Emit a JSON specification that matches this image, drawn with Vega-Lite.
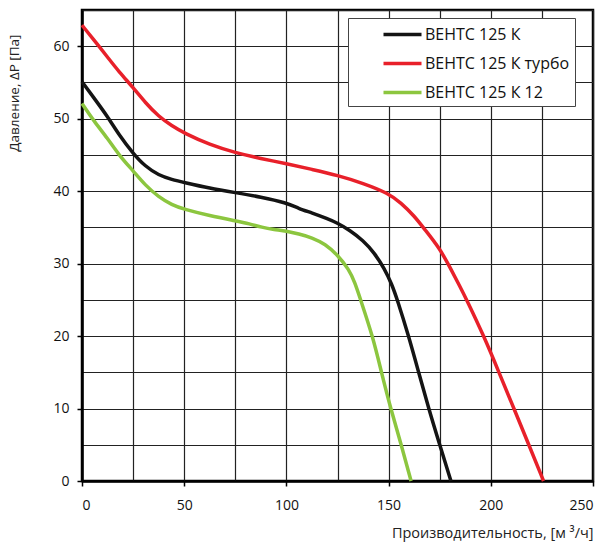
{
  "$schema": "https://vega.github.io/schema/vega-lite/v6.json",
  "width": 511,
  "height": 471,
  "autosize": "none",
  "padding": {"left": 82, "top": 10, "right": 7, "bottom": 64},
  "background": "white",
  "config": {
    "font": "Open Sans",
    "view": {"stroke": "#000", "strokeWidth": 2.5},
    "legend": {"strokeColor": "#444", "fillColor": "white"},
    "axis": {
      "domainColor": "#000",
      "domainWidth": 2.5,
      "gridColor": "#222",
      "gridWidth": 1.2,
      "gridOpacity": 1,
      "tickColor": "#000",
      "tickWidth": 1.5,
      "tickSize": 5,
      "labelFont": "Open Sans",
      "labelFontSize": 14,
      "labelColor": "#111",
      "titleFont": "Open Sans",
      "titleFontWeight": "normal",
      "titleColor": "#222"
    }
  },
  "data": {
    "values": [
      {"model": "ВЕНТС 125 К", "q": 0, "p": 55.1},
      {"model": "ВЕНТС 125 К", "q": 6, "p": 52.8},
      {"model": "ВЕНТС 125 К", "q": 12.5, "p": 50.3},
      {"model": "ВЕНТС 125 К", "q": 18, "p": 47.8},
      {"model": "ВЕНТС 125 К", "q": 25, "p": 45.2},
      {"model": "ВЕНТС 125 К", "q": 31, "p": 43.4},
      {"model": "ВЕНТС 125 К", "q": 37.5, "p": 42.2},
      {"model": "ВЕНТС 125 К", "q": 44, "p": 41.6},
      {"model": "ВЕНТС 125 К", "q": 50, "p": 41.2},
      {"model": "ВЕНТС 125 К", "q": 62.5, "p": 40.4},
      {"model": "ВЕНТС 125 К", "q": 75, "p": 39.8},
      {"model": "ВЕНТС 125 К", "q": 87.5, "p": 39.2},
      {"model": "ВЕНТС 125 К", "q": 100, "p": 38.4},
      {"model": "ВЕНТС 125 К", "q": 106, "p": 37.6},
      {"model": "ВЕНТС 125 К", "q": 112.5, "p": 37},
      {"model": "ВЕНТС 125 К", "q": 120, "p": 36.2},
      {"model": "ВЕНТС 125 К", "q": 125, "p": 35.6},
      {"model": "ВЕНТС 125 К", "q": 131, "p": 34.6},
      {"model": "ВЕНТС 125 К", "q": 137.5, "p": 33.2},
      {"model": "ВЕНТС 125 К", "q": 143, "p": 31.5},
      {"model": "ВЕНТС 125 К", "q": 148, "p": 29.3},
      {"model": "ВЕНТС 125 К", "q": 151.5, "p": 27.2},
      {"model": "ВЕНТС 125 К", "q": 154.3, "p": 25},
      {"model": "ВЕНТС 125 К", "q": 159.8, "p": 20},
      {"model": "ВЕНТС 125 К", "q": 164.7, "p": 15},
      {"model": "ВЕНТС 125 К", "q": 169.6, "p": 10},
      {"model": "ВЕНТС 125 К", "q": 175, "p": 5},
      {"model": "ВЕНТС 125 К", "q": 180.5, "p": 0},
      {"model": "ВЕНТС 125 К турбо", "q": 0, "p": 62.9},
      {"model": "ВЕНТС 125 К турбо", "q": 6, "p": 60.8},
      {"model": "ВЕНТС 125 К турбо", "q": 12.5, "p": 58.5},
      {"model": "ВЕНТС 125 К турбо", "q": 18, "p": 56.5},
      {"model": "ВЕНТС 125 К турбо", "q": 25, "p": 54.3},
      {"model": "ВЕНТС 125 К турбо", "q": 31, "p": 52.2},
      {"model": "ВЕНТС 125 К турбо", "q": 37.5, "p": 50.3},
      {"model": "ВЕНТС 125 К турбо", "q": 44, "p": 49},
      {"model": "ВЕНТС 125 К турбо", "q": 50, "p": 48},
      {"model": "ВЕНТС 125 К турбо", "q": 62.5, "p": 46.4},
      {"model": "ВЕНТС 125 К турбо", "q": 75, "p": 45.3},
      {"model": "ВЕНТС 125 К турбо", "q": 87.5, "p": 44.5},
      {"model": "ВЕНТС 125 К турбо", "q": 100, "p": 43.8},
      {"model": "ВЕНТС 125 К турбо", "q": 112.5, "p": 43},
      {"model": "ВЕНТС 125 К турбо", "q": 125, "p": 42.2},
      {"model": "ВЕНТС 125 К турбо", "q": 137.5, "p": 41.1},
      {"model": "ВЕНТС 125 К турбо", "q": 150, "p": 39.7},
      {"model": "ВЕНТС 125 К турбо", "q": 156, "p": 38.4},
      {"model": "ВЕНТС 125 К турбо", "q": 162.5, "p": 36.6},
      {"model": "ВЕНТС 125 К турбо", "q": 168, "p": 34.6},
      {"model": "ВЕНТС 125 К турбо", "q": 175, "p": 32.1},
      {"model": "ВЕНТС 125 К турбо", "q": 180, "p": 29.5},
      {"model": "ВЕНТС 125 К турбо", "q": 185, "p": 26.8},
      {"model": "ВЕНТС 125 К турбо", "q": 188.2, "p": 25},
      {"model": "ВЕНТС 125 К турбо", "q": 196.6, "p": 20},
      {"model": "ВЕНТС 125 К турбо", "q": 204, "p": 15},
      {"model": "ВЕНТС 125 К турбо", "q": 211.3, "p": 10},
      {"model": "ВЕНТС 125 К турбо", "q": 218.6, "p": 5},
      {"model": "ВЕНТС 125 К турбо", "q": 225.8, "p": 0},
      {"model": "ВЕНТС 125 К 12", "q": 0, "p": 52.1},
      {"model": "ВЕНТС 125 К 12", "q": 6, "p": 49.6},
      {"model": "ВЕНТС 125 К 12", "q": 12.5, "p": 47.3},
      {"model": "ВЕНТС 125 К 12", "q": 18, "p": 45},
      {"model": "ВЕНТС 125 К 12", "q": 25, "p": 42.8},
      {"model": "ВЕНТС 125 К 12", "q": 31, "p": 40.8},
      {"model": "ВЕНТС 125 К 12", "q": 37.5, "p": 39.2},
      {"model": "ВЕНТС 125 К 12", "q": 44, "p": 38.1},
      {"model": "ВЕНТС 125 К 12", "q": 50, "p": 37.5},
      {"model": "ВЕНТС 125 К 12", "q": 62.5, "p": 36.6},
      {"model": "ВЕНТС 125 К 12", "q": 75, "p": 35.9},
      {"model": "ВЕНТС 125 К 12", "q": 82, "p": 35.5},
      {"model": "ВЕНТС 125 К 12", "q": 88, "p": 35},
      {"model": "ВЕНТС 125 К 12", "q": 94, "p": 34.7},
      {"model": "ВЕНТС 125 К 12", "q": 100, "p": 34.5},
      {"model": "ВЕНТС 125 К 12", "q": 106, "p": 34.1},
      {"model": "ВЕНТС 125 К 12", "q": 112.5, "p": 33.6},
      {"model": "ВЕНТС 125 К 12", "q": 119, "p": 32.7},
      {"model": "ВЕНТС 125 К 12", "q": 125, "p": 31.2},
      {"model": "ВЕНТС 125 К 12", "q": 130.6, "p": 29.2},
      {"model": "ВЕНТС 125 К 12", "q": 133.5, "p": 27.4},
      {"model": "ВЕНТС 125 К 12", "q": 136.3, "p": 25},
      {"model": "ВЕНТС 125 К 12", "q": 142.2, "p": 20},
      {"model": "ВЕНТС 125 К 12", "q": 146.5, "p": 15},
      {"model": "ВЕНТС 125 К 12", "q": 151, "p": 10},
      {"model": "ВЕНТС 125 К 12", "q": 156.2, "p": 5},
      {"model": "ВЕНТС 125 К 12", "q": 161, "p": 0}
    ]
  },
  "mark": {"type": "line", "interpolate": "basis", "strokeWidth": 3.5},
  "encoding": {
    "x": {
      "field": "q",
      "type": "quantitative",
      "scale": {"domain": [0, 250], "nice": false},
      "axis": {
        "values": [0, 25, 50, 75, 100, 125, 150, 175, 200, 225, 250],
        "labelExpr": "datum.value % 50 === 0 ? datum.label : ''",
        "tickOpacity": {"expr": "datum.value % 50 === 0 ? 1 : 0"},
        "labelPadding": 12,
        "title": "Производительность, [м ³/ч]",
        "titleFontSize": 14.5,
        "titleAnchor": "end",
        "titlePadding": 14
      }
    },
    "y": {
      "field": "p",
      "type": "quantitative",
      "scale": {"domain": [0, 65], "nice": false},
      "axis": {
        "values": [0, 5, 10, 15, 20, 25, 30, 35, 40, 45, 50, 55, 60, 65],
        "labelExpr": "datum.value % 10 === 0 ? datum.label : ''",
        "tickOpacity": {"expr": "datum.value % 10 === 0 ? 1 : 0"},
        "labelPadding": 8,
        "title": "Давление, ΔP [Па]",
        "titleFontSize": 13.5,
        "titleAngle": 270,
        "titleAlign": "right",
        "titleBaseline": "middle",
        "titleX": -68,
        "titleY": 24
      }
    },
    "color": {
      "field": "model",
      "type": "nominal",
      "sort": null,
      "scale": {
        "domain": ["ВЕНТС 125 К", "ВЕНТС 125 К турбо", "ВЕНТС 125 К 12"],
        "range": ["#141414", "#e8202a", "#8cc63f"]
      },
      "legend": {
        "title": null,
        "orient": "none",
        "legendX": 266,
        "legendY": 8,
        "padding": 5,
        "symbolType": "M-2,0H2",
        "symbolStrokeWidth": 3.5,
        "symbolSize": 361,
        "symbolOffset": 38,
        "labelOffset": 11,
        "labelFont": "Open Sans",
        "labelFontSize": 16,
        "labelColor": "#111",
        "rowPadding": 9
      }
    }
  }
}
